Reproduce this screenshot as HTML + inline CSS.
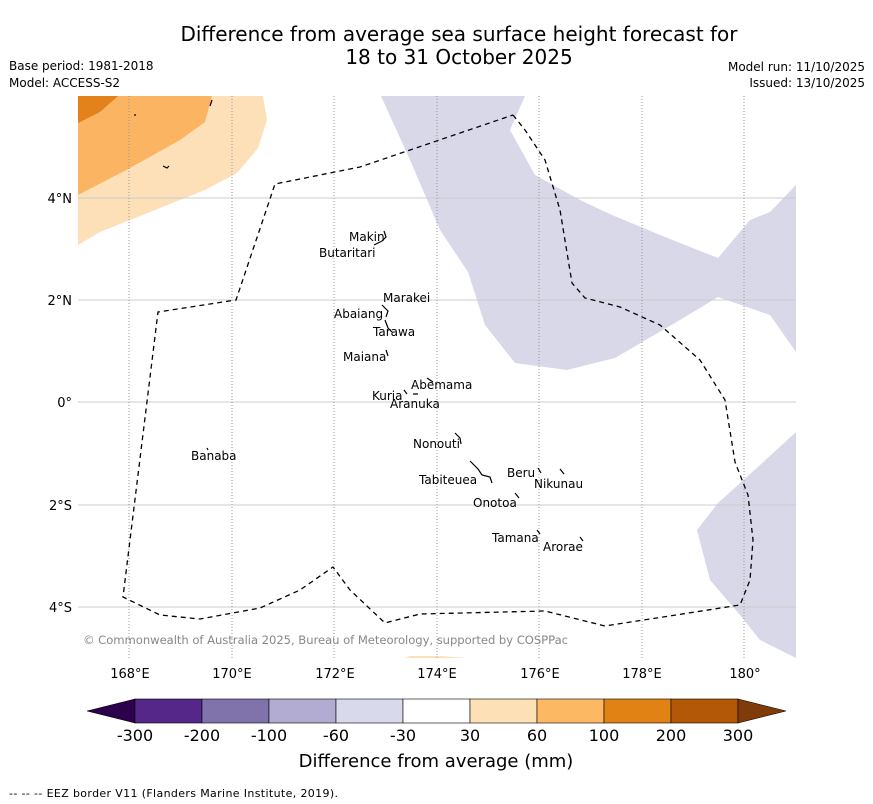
<!DOCTYPE html>
<html><head><meta charset="utf-8"><style>
body{margin:0;background:#fff;}
svg{display:block;font-family:"DejaVu Sans","Liberation Sans",sans-serif;}
</style></head><body>
<svg width="873" height="804" viewBox="0 0 873 804">
<rect width="873" height="804" fill="#fff"/>
<text x="459" y="41" font-size="20" text-anchor="middle">Difference from average sea surface height forecast for</text>
<text x="459" y="64" font-size="20" text-anchor="middle">18 to 31 October 2025</text>
<text x="9" y="70" font-size="12">Base period: 1981-2018</text>
<text x="9" y="87" font-size="12">Model: ACCESS-S2</text>
<text x="865" y="71" font-size="12" text-anchor="end">Model run: 11/10/2025</text>
<text x="865" y="87" font-size="12" text-anchor="end">Issued: 13/10/2025</text>
<defs><clipPath id="mc"><rect x="78" y="96" width="718" height="562"/></clipPath></defs>
<g clip-path="url(#mc)">
<polygon fill="#d8d8e9" points="381,96 525,96 510,130 535,175 580,200 612,215 665,237 718,258 750,220 770,212 796,185 796,352 770,315 718,297 680,320 615,358 567,370 515,363 485,325 468,272 440,230 410,160"/>
<polygon fill="#d8d8e9" points="796,432 760,465 718,503 697,530 710,580 740,615 760,640 796,658"/>
<polygon fill="#fde0b8" points="78,96 263,96 267,120 258,148 237,173 205,190 155,210 100,232 78,245"/>
<polygon fill="#fbb461" points="78,96 212,96 205,122 180,140 130,168 78,195"/>
<polygon fill="#e3821b" points="78,96 118,96 100,112 78,123"/>
<polygon fill="#fde0b8" points="405,658 467,658 440,656 410,656"/>
<g stroke="#ccc" stroke-width="1">
<line x1="78" x2="796" y1="198" y2="198"/><line x1="78" x2="796" y1="300" y2="300"/><line x1="78" x2="796" y1="402" y2="402"/><line x1="78" x2="796" y1="505" y2="505"/><line x1="78" x2="796" y1="607" y2="607"/>
</g>
<g stroke="#999" stroke-width="1" stroke-dasharray="1,2">
<line x1="129" x2="129" y1="96" y2="658"/><line x1="232" x2="232" y1="96" y2="658"/><line x1="334" x2="334" y1="96" y2="658"/><line x1="437" x2="437" y1="96" y2="658"/><line x1="539" x2="539" y1="96" y2="658"/><line x1="642" x2="642" y1="96" y2="658"/><line x1="744" x2="744" y1="96" y2="658"/>
</g>
<polyline fill="none" stroke="#000" stroke-width="1.3" stroke-dasharray="5,4" points="513,115 525,130 545,160 560,210 572,283 585,298 620,307 660,325 700,360 725,400 735,462 748,495 753,540 750,580 740,605 605,626 545,611 420,614 385,623 350,590 333,567 300,590 260,608 200,619 160,615 123,597 158,312 236,300 275,184 360,167 513,115"/>
<g stroke="#000" stroke-width="1.2" fill="none">
<path d="M384,231 l2,6 -4,4 -8,4"/><path d="M382,305 l6,6 -2,6"/><path d="M385,320 l3,8 4,4"/><path d="M386,350 l2,6"/><path d="M427,378 l6,4"/><path d="M404,390 l3,4 M413,394 l5,0"/><path d="M455,433 l5,5 1,6"/><path d="M470,461 l8,8 4,6 8,2 2,6"/><path d="M538,468 l3,5"/><path d="M560,469 l4,5"/><path d="M515,493 l4,5"/><path d="M537,530 l3,4"/><path d="M580,537 l3,4"/><path d="M207,448 l1,2"/><path d="M163,166 l4,2 2,-2"/><path d="M134,115 h2"/><path d="M212,100 l-2,6"/>
</g>
<g font-size="12" fill="#000">
<text x="349" y="241">Makin</text><text x="319" y="257">Butaritari</text><text x="383" y="302">Marakei</text><text x="334" y="318">Abaiang</text><text x="373" y="336">Tarawa</text><text x="343" y="361">Maiana</text><text x="411" y="389">Abemama</text><text x="372" y="400">Kuria</text><text x="390" y="408">Aranuka</text><text x="413" y="448">Nonouti</text><text x="191" y="460">Banaba</text><text x="507" y="477">Beru</text><text x="534" y="488">Nikunau</text><text x="419" y="484">Tabiteuea</text><text x="473" y="507">Onotoa</text><text x="492" y="542">Tamana</text><text x="543" y="551">Arorae</text>
</g>
<text x="83" y="644" font-size="11.6" fill="#888" textLength="485">© Commonwealth of Australia 2025, Bureau of Meteorology, supported by COSPPac</text>
</g>
<g font-size="13" fill="#000">
<text x="72" y="203" text-anchor="end">4°N</text><text x="72" y="305" text-anchor="end">2°N</text><text x="72" y="407" text-anchor="end">0°</text><text x="72" y="510" text-anchor="end">2°S</text><text x="72" y="612" text-anchor="end">4°S</text>
</g>
<g font-size="13" fill="#000" text-anchor="middle">
<text x="130" y="678">168°E</text><text x="232" y="678">170°E</text><text x="335" y="678">172°E</text><text x="437" y="678">174°E</text><text x="540" y="678">176°E</text><text x="642" y="678">178°E</text><text x="745" y="678">180°</text>
</g>
<g stroke="#000" stroke-width="0.6">
<polygon points="87,711 135,699 135,723" fill="#2d004b"/>
<rect x="135" y="699" width="67" height="24" fill="#542788"/>
<rect x="202" y="699" width="67" height="24" fill="#8073ac"/>
<rect x="269" y="699" width="67" height="24" fill="#b2abd2"/>
<rect x="336" y="699" width="67" height="24" fill="#d8daeb"/>
<rect x="403" y="699" width="67" height="24" fill="#ffffff"/>
<rect x="470" y="699" width="67" height="24" fill="#fee0b6"/>
<rect x="537" y="699" width="67" height="24" fill="#fdb863"/>
<rect x="604" y="699" width="67" height="24" fill="#e08214"/>
<rect x="671" y="699" width="67" height="24" fill="#b35806"/>
<polygon points="738,699 786,711 738,723" fill="#7f3b08"/>
</g>
<g font-size="16" text-anchor="middle">
<text x="135" y="741">-300</text><text x="202" y="741">-200</text><text x="269" y="741">-100</text><text x="336" y="741">-60</text><text x="403" y="741">-30</text><text x="470" y="741">30</text><text x="537" y="741">60</text><text x="604" y="741">100</text><text x="671" y="741">200</text><text x="738" y="741">300</text>
</g>
<text x="436" y="767" font-size="18" text-anchor="middle">Difference from average (mm)</text>
<text x="9" y="797" font-size="11" textLength="329">--  --  -- EEZ border V11 (Flanders Marine Institute, 2019).</text>
</svg>
</body></html>
